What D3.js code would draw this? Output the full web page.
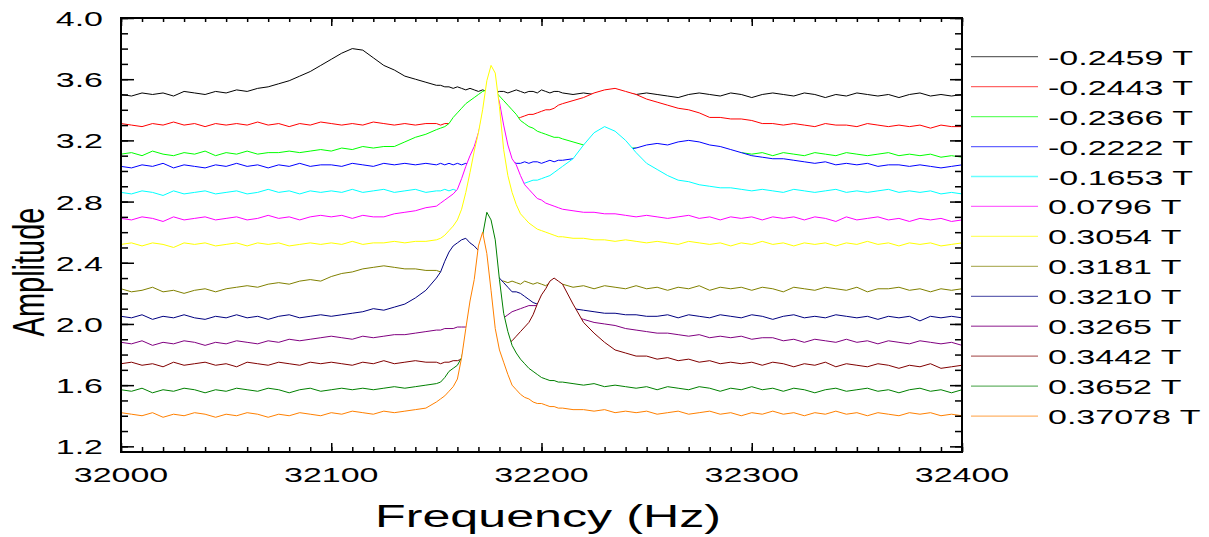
<!DOCTYPE html>
<html>
<head>
<meta charset="utf-8">
<title>Amplitude vs Frequency</title>
<script src="https://cdn.jsdelivr.net/npm/d3@7"></script>
<style>
  html, body { margin: 0; padding: 0; background: #fff; }
  svg { display: block; }
  text { font-family: "Liberation Sans", Arial, Helvetica, sans-serif; fill: #000; }
</style>
</head>
<body>
<div id="chart"></div>
<script>
/* global d3 */

// Frequency grid (Hz): 5 Hz steps, 2 Hz steps around the resonances
const freqs = [
  32000, 32005, 32010, 32015, 32020, 32025, 32030, 32035, 32040, 32045, 32050, 32055, 32060, 32065, 32070, 32075,
  32080, 32085, 32090, 32095, 32100, 32105, 32110, 32115, 32120, 32125, 32130, 32135, 32140, 32145, 32150,
  32152, 32154, 32156, 32158, 32160, 32162, 32164, 32166, 32168, 32170, 32172, 32174, 32176, 32178, 32180,
  32182, 32184, 32186, 32188, 32190, 32192, 32194, 32196, 32198, 32200, 32202, 32204, 32206, 32208, 32210,
  32215, 32220, 32225, 32230, 32235, 32240, 32245, 32250, 32255, 32260, 32265, 32270, 32275, 32280, 32285,
  32290, 32295, 32300, 32305, 32310, 32315, 32320, 32325, 32330, 32335, 32340, 32345, 32350, 32355, 32360,
  32365, 32370, 32375, 32380, 32385, 32390, 32395, 32400,
];

// Amplitude traces (offset), one per field value
const amp_m2459 = [
  3.50, 3.49, 3.51, 3.50, 3.51, 3.49, 3.52, 3.51, 3.50, 3.52, 3.51, 3.53, 3.52, 3.54, 3.55, 3.57, 3.59, 3.62, 3.65, 3.69, 3.73, 3.77, 3.80, 3.79, 3.74, 3.69, 3.66, 3.62, 3.60, 3.58, 3.56,
  3.56, 3.55, 3.55, 3.54, 3.55, 3.54, 3.53, 3.54, 3.53, 3.52, 3.53, 3.52, 3.52, 3.51, 3.52, 3.52, 3.51, 3.52, 3.53, 3.52, 3.51, 3.52, 3.52, 3.51, 3.53, 3.52, 3.51, 3.52, 3.52, 3.51,
  3.50, 3.51, 3.50, 3.51, 3.52, 3.51, 3.50, 3.51, 3.50, 3.49, 3.48, 3.50, 3.51, 3.50, 3.49, 3.51, 3.50, 3.48, 3.50, 3.51, 3.50, 3.49, 3.51, 3.50, 3.48, 3.50, 3.49, 3.51, 3.50, 3.49, 3.50, 3.48, 3.50, 3.51, 3.49, 3.50, 3.49, 3.50,
];
const amp_m2443 = [
  3.31, 3.30, 3.29, 3.31, 3.30, 3.32, 3.30, 3.31, 3.29, 3.31, 3.30, 3.31, 3.30, 3.32, 3.30, 3.31, 3.29, 3.31, 3.30, 3.32, 3.31, 3.30, 3.31, 3.30, 3.32, 3.31, 3.30, 3.31, 3.30, 3.31, 3.31,
  3.30, 3.31, 3.31, 3.31, 3.31, 3.31, 3.32, 3.32, 3.32, 3.32, 3.32, 3.32, 3.33, 3.33, 3.33, 3.33, 3.33, 3.33, 3.34, 3.35, 3.36, 3.37, 3.37, 3.38, 3.39, 3.40, 3.40, 3.41, 3.43, 3.44,
  3.46, 3.48, 3.51, 3.53, 3.54, 3.52, 3.50, 3.47, 3.45, 3.43, 3.41, 3.40, 3.38, 3.35, 3.35, 3.34, 3.34, 3.33, 3.31, 3.31, 3.30, 3.31, 3.30, 3.29, 3.31, 3.30, 3.30, 3.29, 3.31, 3.30, 3.29, 3.30, 3.29, 3.30, 3.28, 3.30, 3.29, 3.29,
];
const amp_m2366 = [
  3.11, 3.12, 3.10, 3.13, 3.11, 3.10, 3.12, 3.11, 3.13, 3.10, 3.12, 3.11, 3.13, 3.11, 3.12, 3.12, 3.13, 3.12, 3.13, 3.14, 3.13, 3.15, 3.14, 3.16, 3.15, 3.16, 3.16, 3.19, 3.22, 3.24, 3.27,
  3.28, 3.29, 3.31, 3.35, 3.38, 3.41, 3.44, 3.46, 3.48, 3.50, 3.52, 3.53, 3.53, 3.52, 3.49, 3.46, 3.43, 3.40, 3.37, 3.33, 3.31, 3.29, 3.28, 3.26, 3.25, 3.24, 3.23, 3.22, 3.22, 3.21,
  3.19, 3.17, 3.17, 3.16, 3.16, 3.15, 3.15, 3.14, 3.14, 3.13, 3.13, 3.12, 3.13, 3.12, 3.12, 3.11, 3.12, 3.11, 3.12, 3.10, 3.12, 3.11, 3.10, 3.12, 3.11, 3.10, 3.12, 3.11, 3.10, 3.11, 3.12, 3.10, 3.11, 3.10, 3.11, 3.09, 3.10, 3.09,
];
const amp_m2222 = [
  3.03, 3.02, 3.04, 3.03, 3.05, 3.02, 3.04, 3.03, 3.02, 3.04, 3.03, 3.05, 3.03, 3.04, 3.02, 3.04, 3.03, 3.05, 3.03, 3.04, 3.04, 3.03, 3.05, 3.04, 3.03, 3.05, 3.04, 3.05, 3.04, 3.05, 3.04,
  3.05, 3.04, 3.05, 3.04, 3.05, 3.04, 3.05, 3.04, 3.05, 3.04, 3.05, 3.05, 3.04, 3.05, 3.05, 3.04, 3.05, 3.06, 3.05, 3.05, 3.06, 3.05, 3.06, 3.06, 3.05, 3.06, 3.07, 3.06, 3.07, 3.07,
  3.08, 3.09, 3.10, 3.11, 3.12, 3.14, 3.15, 3.17, 3.18, 3.17, 3.19, 3.20, 3.19, 3.17, 3.16, 3.14, 3.12, 3.10, 3.09, 3.08, 3.08, 3.07, 3.06, 3.05, 3.06, 3.04, 3.05, 3.04, 3.05, 3.03, 3.04, 3.04, 3.03, 3.04, 3.03, 3.02, 3.03, 3.04,
];
const amp_m1653 = [
  2.86, 2.85, 2.87, 2.86, 2.84, 2.87, 2.85, 2.86, 2.87, 2.85, 2.86, 2.87, 2.85, 2.86, 2.88, 2.86, 2.87, 2.85, 2.87, 2.86, 2.87, 2.86, 2.88, 2.86, 2.87, 2.88, 2.86, 2.87, 2.88, 2.86, 2.87,
  2.87, 2.88, 2.87, 2.88, 2.87, 2.88, 2.88, 2.88, 2.89, 2.89, 2.89, 2.89, 2.90, 2.90, 2.90, 2.90, 2.91, 2.91, 2.91, 2.92, 2.92, 2.93, 2.94, 2.94, 2.95, 2.96, 2.97, 2.99, 3.01, 3.03,
  3.08, 3.17, 3.25, 3.29, 3.26, 3.20, 3.12, 3.05, 3.01, 2.97, 2.94, 2.93, 2.91, 2.90, 2.89, 2.89, 2.88, 2.87, 2.88, 2.87, 2.86, 2.88, 2.87, 2.86, 2.87, 2.88, 2.86, 2.87, 2.86, 2.87, 2.88, 2.86, 2.87, 2.86, 2.87, 2.85, 2.86, 2.85,
];
const amp_0796 = [
  2.69, 2.68, 2.70, 2.69, 2.67, 2.70, 2.68, 2.69, 2.70, 2.68, 2.69, 2.70, 2.68, 2.69, 2.71, 2.69, 2.70, 2.68, 2.70, 2.71, 2.70, 2.71, 2.69, 2.71, 2.70, 2.70, 2.72, 2.73, 2.74, 2.76, 2.77,
  2.79, 2.81, 2.83, 2.85, 2.88, 2.95, 3.03, 3.10, 3.16, 3.25, 3.36, 3.48, 3.56, 3.55, 3.45, 3.30, 3.17, 3.08, 3.04, 2.97, 2.91, 2.88, 2.85, 2.82, 2.81, 2.79, 2.78, 2.77, 2.76, 2.75,
  2.74, 2.73, 2.73, 2.72, 2.72, 2.71, 2.70, 2.71, 2.70, 2.69, 2.70, 2.71, 2.69, 2.70, 2.68, 2.70, 2.69, 2.70, 2.68, 2.70, 2.69, 2.70, 2.68, 2.70, 2.69, 2.67, 2.70, 2.68, 2.69, 2.70, 2.68, 2.69, 2.67, 2.69, 2.68, 2.69, 2.67, 2.68,
];
const amp_3054 = [
  2.52, 2.53, 2.51, 2.53, 2.52, 2.50, 2.53, 2.52, 2.53, 2.51, 2.52, 2.53, 2.51, 2.53, 2.52, 2.53, 2.51, 2.52, 2.53, 2.52, 2.53, 2.52, 2.54, 2.52, 2.53, 2.53, 2.54, 2.53, 2.54, 2.54, 2.55,
  2.56, 2.58, 2.61, 2.64, 2.68, 2.75, 2.86, 2.99, 3.13, 3.25, 3.40, 3.59, 3.69, 3.64, 3.42, 3.14, 2.97, 2.86, 2.78, 2.72, 2.69, 2.66, 2.64, 2.62, 2.61, 2.60, 2.59, 2.58, 2.57, 2.57,
  2.56, 2.56, 2.55, 2.55, 2.54, 2.55, 2.54, 2.53, 2.54, 2.53, 2.52, 2.54, 2.53, 2.52, 2.53, 2.51, 2.53, 2.52, 2.54, 2.52, 2.53, 2.51, 2.53, 2.52, 2.53, 2.51, 2.53, 2.52, 2.54, 2.52, 2.53, 2.51, 2.53, 2.52, 2.53, 2.51, 2.52, 2.53,
];
const amp_3181 = [
  2.23, 2.21, 2.22, 2.24, 2.21, 2.22, 2.20, 2.22, 2.23, 2.21, 2.23, 2.24, 2.25, 2.24, 2.26, 2.27, 2.26, 2.28, 2.29, 2.28, 2.31, 2.33, 2.34, 2.36, 2.37, 2.38, 2.37, 2.36, 2.36, 2.35, 2.35,
  2.34, 2.34, 2.33, 2.33, 2.32, 2.32, 2.31, 2.31, 2.30, 2.30, 2.29, 2.29, 2.29, 2.28, 2.28, 2.28, 2.27, 2.28, 2.27, 2.26, 2.28, 2.27, 2.26, 2.27, 2.26, 2.25, 2.27, 2.26, 2.25, 2.26,
  2.24, 2.25, 2.23, 2.25, 2.24, 2.23, 2.25, 2.23, 2.24, 2.22, 2.24, 2.23, 2.25, 2.22, 2.24, 2.23, 2.24, 2.22, 2.24, 2.23, 2.21, 2.24, 2.23, 2.22, 2.24, 2.23, 2.22, 2.24, 2.21, 2.23, 2.23, 2.24, 2.22, 2.23, 2.21, 2.23, 2.22, 2.23,
];
const amp_3210 = [
  2.05, 2.04, 2.06, 2.03, 2.05, 2.04, 2.06, 2.04, 2.03, 2.05, 2.04, 2.06, 2.04, 2.05, 2.03, 2.05, 2.06, 2.04, 2.05, 2.06, 2.05, 2.06, 2.07, 2.08, 2.10, 2.09, 2.11, 2.13, 2.17, 2.22, 2.30,
  2.34, 2.41, 2.47, 2.51, 2.53, 2.55, 2.56, 2.53, 2.51, 2.48, 2.44, 2.40, 2.36, 2.33, 2.30, 2.27, 2.24, 2.21, 2.21, 2.20, 2.18, 2.16, 2.14, 2.13, 2.12, 2.12, 2.11, 2.11, 2.10, 2.10,
  2.10, 2.09, 2.08, 2.07, 2.07, 2.06, 2.06, 2.05, 2.05, 2.06, 2.04, 2.06, 2.05, 2.04, 2.06, 2.05, 2.04, 2.06, 2.05, 2.03, 2.05, 2.06, 2.04, 2.05, 2.04, 2.06, 2.05, 2.04, 2.05, 2.03, 2.05, 2.04, 2.05, 2.02, 2.05, 2.04, 2.05, 2.04,
];
const amp_3265 = [
  1.88, 1.87, 1.89, 1.86, 1.88, 1.87, 1.89, 1.88, 1.86, 1.88, 1.87, 1.89, 1.88, 1.87, 1.89, 1.88, 1.90, 1.89, 1.90, 1.91, 1.92, 1.91, 1.90, 1.92, 1.91, 1.92, 1.93, 1.93, 1.94, 1.95, 1.96,
  1.96, 1.97, 1.97, 1.97, 1.98, 1.98, 1.98, 1.99, 1.99, 2.00, 2.00, 2.01, 2.01, 2.02, 2.03, 2.04, 2.06, 2.08, 2.09, 2.10, 2.11, 2.12, 2.12, 2.12, 2.11, 2.10, 2.09, 2.08, 2.07, 2.06,
  2.05, 2.03, 2.01, 2.00, 1.99, 1.97, 1.96, 1.95, 1.94, 1.94, 1.93, 1.92, 1.93, 1.91, 1.92, 1.91, 1.92, 1.90, 1.91, 1.91, 1.89, 1.90, 1.88, 1.90, 1.89, 1.88, 1.90, 1.88, 1.89, 1.87, 1.89, 1.88, 1.87, 1.89, 1.88, 1.87, 1.88, 1.86,
];
const amp_3442 = [
  1.74, 1.75, 1.73, 1.74, 1.72, 1.75, 1.73, 1.74, 1.75, 1.73, 1.74, 1.72, 1.75, 1.74, 1.73, 1.75, 1.74, 1.73, 1.75, 1.74, 1.75, 1.74, 1.73, 1.75, 1.74, 1.76, 1.74, 1.75, 1.76, 1.75, 1.75,
  1.74, 1.75, 1.75, 1.76, 1.76, 1.77, 1.77, 1.78, 1.78, 1.79, 1.80, 1.81, 1.82, 1.83, 1.84, 1.85, 1.87, 1.89, 1.92, 1.95, 1.98, 2.01, 2.06, 2.13, 2.19, 2.23, 2.28, 2.30, 2.28, 2.26,
  2.13, 2.01, 1.94, 1.88, 1.83, 1.81, 1.79, 1.79, 1.77, 1.78, 1.76, 1.77, 1.75, 1.76, 1.74, 1.75, 1.74, 1.75, 1.73, 1.75, 1.74, 1.72, 1.74, 1.73, 1.75, 1.72, 1.74, 1.73, 1.72, 1.74, 1.73, 1.71, 1.73, 1.72, 1.74, 1.71, 1.72, 1.73,
];
const amp_3652 = [
  1.57, 1.56, 1.58, 1.55, 1.57, 1.56, 1.58, 1.57, 1.55, 1.57, 1.56, 1.58, 1.57, 1.56, 1.58, 1.57, 1.55, 1.57, 1.58, 1.56, 1.57, 1.58, 1.57, 1.58, 1.57, 1.58, 1.59, 1.58, 1.59, 1.60, 1.61,
  1.62, 1.65, 1.69, 1.71, 1.73, 1.78, 1.90, 2.05, 2.20, 2.40, 2.58, 2.73, 2.68, 2.55, 2.29, 2.07, 1.95, 1.86, 1.81, 1.77, 1.74, 1.71, 1.69, 1.67, 1.65, 1.64, 1.63, 1.63, 1.62, 1.62,
  1.61, 1.60, 1.61, 1.59, 1.60, 1.59, 1.58, 1.59, 1.57, 1.59, 1.58, 1.57, 1.59, 1.58, 1.56, 1.58, 1.57, 1.59, 1.57, 1.58, 1.56, 1.58, 1.57, 1.55, 1.57, 1.58, 1.56, 1.57, 1.58, 1.56, 1.57, 1.55, 1.57, 1.58, 1.56, 1.57, 1.55, 1.57,
];
const amp_37078 = [
  1.42, 1.41, 1.40, 1.42, 1.39, 1.41, 1.40, 1.42, 1.41, 1.39, 1.41, 1.40, 1.42, 1.41, 1.39, 1.41, 1.40, 1.42, 1.41, 1.40, 1.42, 1.41, 1.43, 1.42, 1.41, 1.43, 1.42, 1.43, 1.44, 1.45, 1.49,
  1.51, 1.53, 1.56, 1.59, 1.64, 1.78, 1.97, 2.15, 2.29, 2.51, 2.60, 2.46, 2.22, 1.97, 1.83, 1.75, 1.67, 1.60, 1.57, 1.54, 1.52, 1.51, 1.49, 1.48, 1.48, 1.47, 1.46, 1.46, 1.45, 1.45,
  1.44, 1.44, 1.43, 1.44, 1.42, 1.43, 1.42, 1.43, 1.41, 1.42, 1.43, 1.41, 1.42, 1.43, 1.41, 1.42, 1.40, 1.42, 1.41, 1.43, 1.41, 1.42, 1.40, 1.42, 1.41, 1.43, 1.41, 1.42, 1.40, 1.42, 1.41, 1.40, 1.42, 1.41, 1.42, 1.40, 1.41, 1.40,
];

const fieldLabels = [
  '-0.2459 T', '-0.2443 T', '-0.2366 T', '-0.2222 T', '-0.1653 T', '0.0796 T', '0.3054 T',
  '0.3181 T', '0.3210 T', '0.3265 T', '0.3442 T', '0.3652 T', '0.37078 T',
];
const traceColors = [
  '#000000', '#ff0000', '#00ff00', '#0000ff', '#00ffff', '#ff00ff', '#ffff00',
  '#808000', '#000080', '#800080', '#800000', '#008000', '#ff8000',
];
const traces = [
  amp_m2459, amp_m2443, amp_m2366, amp_m2222, amp_m1653, amp_0796, amp_3054,
  amp_3181, amp_3210, amp_3265, amp_3442, amp_3652, amp_37078,
];

const xMajorTicks = [32000, 32100, 32200, 32300, 32400];
const yMajorTicks = [1.2, 1.6, 2.0, 2.4, 2.8, 3.2, 3.6, 4.0];

// Layout
const width = 1209;
const height = 537;
const plot = { left: 121, right: 962, top: 18, bottom: 452 };
const textStretch = 1.62; // the original figure is stretched horizontally
const fontFamily = '"Liberation Sans", Arial, Helvetica, sans-serif';

const x = d3.scaleLinear().domain([32000, 32400]).range([plot.left, plot.right]);
const y = d3.scaleLinear().domain([1.163, 4.0]).range([plot.bottom, plot.top]);

const svg = d3
  .select('#chart')
  .append('svg')
  .attr('width', width)
  .attr('height', height)
  .style('background', '#ffffff');

svg
  .append('defs')
  .append('clipPath')
  .attr('id', 'plot-clip')
  .append('rect')
  .attr('x', plot.left)
  .attr('y', plot.top)
  .attr('width', plot.right - plot.left)
  .attr('height', plot.bottom - plot.top);

const traceGroup = svg.append('g').attr('clip-path', 'url(#plot-clip)');

const line = d3
  .line()
  .x((d) => x(d[0]))
  .y((d) => y(d[1]));

// white fill below each trace hides the traces drawn before it (waterfall look)
const area = d3
  .area()
  .x((d) => x(d[0]))
  .y0(plot.bottom)
  .y1((d) => y(d[1]));

traces.forEach((trace, i) => {
  const pts = freqs.map((f, j) => [f, trace[j]]);
  traceGroup.append('path').datum(pts).attr('d', area).attr('fill', '#ffffff');
  traceGroup
    .append('path')
    .datum(pts)
    .attr('d', line)
    .attr('fill', 'none')
    .attr('stroke', traceColors[i])
    .attr('stroke-width', 1)
    .attr('stroke-linejoin', 'round');
});

// Ticks, all pointing into the plot
const xMinor = d3.range(32000, 32401, 10);
const yMinor = d3.range(12, 41).map((v) => v / 10);

function tickAxis(axis, values, size, transform) {
  const g = svg
    .append('g')
    .attr('transform', transform)
    .call(axis.tickValues(values).tickSize(size).tickFormat(''));
  g.select('.domain').remove();
  g.selectAll('line').attr('stroke', '#000').attr('stroke-width', 1.5);
}

tickAxis(d3.axisBottom(x), xMinor, -5, `translate(0,${plot.bottom})`);
tickAxis(d3.axisBottom(x), xMajorTicks, -9, `translate(0,${plot.bottom})`);
tickAxis(d3.axisTop(x), xMinor, -4, `translate(0,${plot.top})`);
tickAxis(d3.axisTop(x), xMajorTicks, -8, `translate(0,${plot.top})`);
tickAxis(d3.axisLeft(y), yMinor, -7, `translate(${plot.left},0)`);
tickAxis(d3.axisLeft(y), yMajorTicks, -13, `translate(${plot.left},0)`);
tickAxis(d3.axisRight(y), yMinor, -7, `translate(${plot.right},0)`);
tickAxis(d3.axisRight(y), yMajorTicks, -12, `translate(${plot.right},0)`);

// Frame
svg
  .append('rect')
  .attr('x', plot.left)
  .attr('y', plot.top)
  .attr('width', plot.right - plot.left)
  .attr('height', plot.bottom - plot.top)
  .attr('fill', 'none')
  .attr('stroke', '#000')
  .attr('stroke-width', 2);

// Tick labels (stretched like the original)
svg
  .append('g')
  .selectAll('text')
  .data(yMajorTicks)
  .join('text')
  .attr('transform', (d) => `translate(103,${y(d) + 8}) scale(${textStretch},1)`)
  .attr('text-anchor', 'end')
  .style('font-size', '21px')
  .text((d) => d3.format('.1f')(d));

svg
  .append('g')
  .selectAll('text')
  .data(xMajorTicks)
  .join('text')
  .attr('transform', (d) => `translate(${x(d)},482) scale(${textStretch},1)`)
  .attr('text-anchor', 'middle')
  .style('font-size', '21px')
  .text((d) => d);

// Axis titles
svg
  .append('text')
  .attr('transform', `translate(548,527) scale(${textStretch},1)`)
  .attr('text-anchor', 'middle')
  .style('font-size', '31px')
  .text('Frequency (Hz)');

svg
  .append('text')
  .attr('transform', 'translate(44,272) rotate(-90) scale(1,1.5)')
  .attr('text-anchor', 'middle')
  .style('font-size', '29px')
  .text('Amplitude');

// Legend
const legend = svg
  .append('g')
  .selectAll('g')
  .data(fieldLabels)
  .join('g')
  .attr('transform', (d, i) => `translate(0,${56.7 + i * 29.95})`);

legend
  .append('line')
  .attr('x1', 971)
  .attr('x2', 1038)
  .attr('y1', 0)
  .attr('y2', 0)
  .attr('stroke', (d, i) => traceColors[i])
  .attr('stroke-opacity', 0.6)
  .attr('stroke-width', 1.3);

legend
  .append('text')
  .attr('transform', `translate(1048,8) scale(${textStretch},1)`)
  .style('font-size', '21px')
  .style('font-family', fontFamily)
  .text((d) => d);
</script>
</body>
</html>
